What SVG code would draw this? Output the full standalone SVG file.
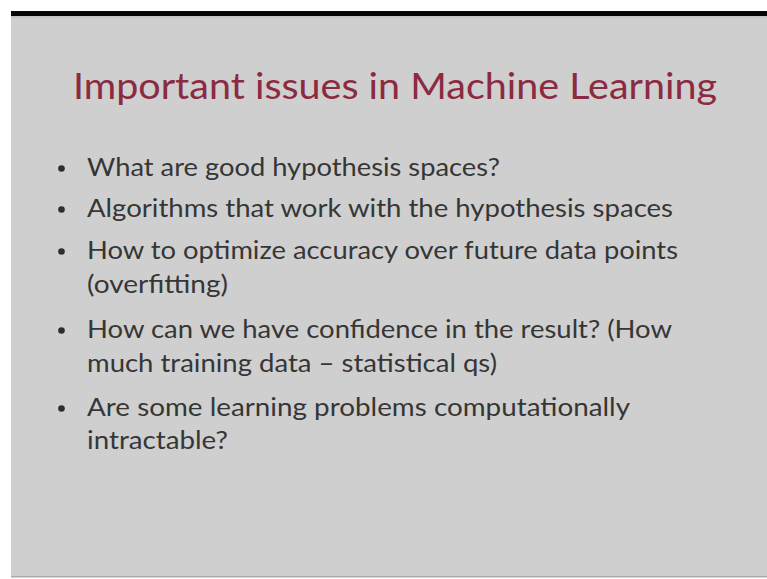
<svg xmlns="http://www.w3.org/2000/svg" width="767" height="579" viewBox="0 0 767 579">
  <style>
    .title { font-family: "Lato", "Open Sans", "DejaVu Sans", sans-serif; font-size: 36px; fill: #8c2a42; }
    .body { font-family: "Lato", "Open Sans", "DejaVu Sans", sans-serif; font-size: 25px; fill: #363636; }
    .bullet { fill: #2e2e2e; }
  </style>
  <defs>
    <linearGradient id="topShade" x1="0" y1="0" x2="0" y2="1">
      <stop offset="0" stop-color="#b8b8b8"/>
      <stop offset="1" stop-color="#cfcfcf"/>
    </linearGradient>
  </defs>
  <rect x="0" y="0" width="767" height="579" fill="#ffffff"/>
  <rect x="11" y="11" width="756" height="566" fill="#cfcfcf"/>
  <rect x="11" y="15" width="756" height="4" fill="url(#topShade)"/>
  <rect x="11" y="11" width="756" height="5" fill="#050505"/>
  <rect x="11" y="576" width="756" height="1.5" fill="#a9a9a9"/>

  <g id="title">
    <text class="title" x="73" y="99" textLength="644" lengthAdjust="spacingAndGlyphs">Important issues in Machine Learning</text>
  </g>

  <g id="bullets">
    <circle class="bullet" cx="61.5" cy="168.5" r="3.3"/>
    <circle class="bullet" cx="61.5" cy="209.5" r="3.3"/>
    <circle class="bullet" cx="61.5" cy="251.5" r="3.3"/>
    <circle class="bullet" cx="61.5" cy="330.5" r="3.3"/>
    <circle class="bullet" cx="61.5" cy="408.5" r="3.3"/>
  </g>

  <g id="items">
    <text class="body" x="87" y="176" textLength="413" lengthAdjust="spacingAndGlyphs">What are good hypothesis spaces?</text>
    <text class="body" x="87" y="217" textLength="586" lengthAdjust="spacingAndGlyphs">Algorithms that work with the hypothesis spaces</text>
    <text class="body" x="87" y="259" textLength="591" lengthAdjust="spacingAndGlyphs">How to optimize accuracy over future data points</text>
    <text class="body" x="87" y="293" textLength="141" lengthAdjust="spacingAndGlyphs">(overfitting)</text>
    <text class="body" x="87" y="338" textLength="585" lengthAdjust="spacingAndGlyphs">How can we have confidence in the result? (How</text>
    <text class="body" x="87" y="372" textLength="410" lengthAdjust="spacingAndGlyphs">much training data – statistical qs)</text>
    <text class="body" x="87" y="416" textLength="543" lengthAdjust="spacingAndGlyphs">Are some learning problems computationally</text>
    <text class="body" x="87" y="449" textLength="141" lengthAdjust="spacingAndGlyphs">intractable?</text>
  </g>
</svg>
